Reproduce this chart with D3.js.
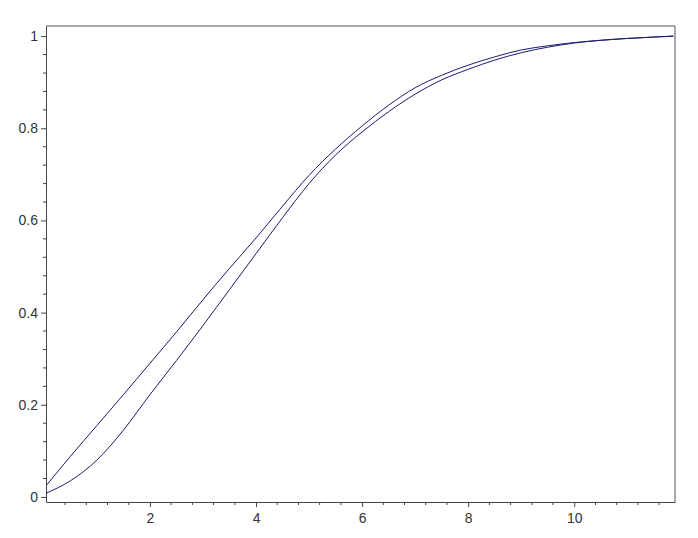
<!DOCTYPE html>
<html>
<head>
<meta charset="utf-8">
<script src="https://cdn.jsdelivr.net/npm/d3@7"></script>
<style>
  body { margin: 0; background: #fff; }
  text { font-family: Arial, "Liberation Sans", sans-serif; font-size: 14px; fill: #333; }
</style>
</head>
<body>
<svg id="plot"></svg>
<script>
const width = 698;
const height = 538;

// curve values
const xs = [0.04, 0.5, 1, 1.5, 2, 2.5, 3, 3.5, 4, 4.5, 5, 5.5, 6, 6.5, 7, 7.5, 8, 8.5, 9, 9.5, 10, 10.5, 11, 11.5, 11.87];
const upperY = [0.024, 0.088, 0.155, 0.222, 0.29, 0.358, 0.428, 0.496, 0.562, 0.631, 0.698, 0.755, 0.805, 0.85, 0.888, 0.915, 0.937, 0.955, 0.97, 0.979, 0.986, 0.991, 0.995, 0.998, 1.0];
const lowerY = [0.008, 0.035, 0.08, 0.145, 0.222, 0.296, 0.372, 0.45, 0.528, 0.606, 0.68, 0.742, 0.792, 0.836, 0.874, 0.905, 0.928, 0.948, 0.964, 0.976, 0.985, 0.991, 0.995, 0.998, 1.0];

const xTicks = [2, 4, 6, 8, 10];
const yTicks = [0, 0.2, 0.4, 0.6, 0.8, 1];

const mLeft = 46, mRight = 675, mTop = 26, mBottom = 502;

const svg = d3.select('#plot').attr('width', width).attr('height', height);

const x = d3.scaleLinear().domain([0.04, 11.9]).range([mLeft, mRight]);
const y = d3.scaleLinear().domain([-0.011, 1.022]).range([mBottom, mTop]);

// frame (top and right)
svg.append('path')
    .attr('d', `M${mLeft},${mTop}H${mRight}V${mBottom}`)
    .attr('fill', 'none')
    .attr('stroke', '#555')
    .attr('stroke-width', 1);

// minor ticks
const xMinor = d3.range(0.4, 11.9, 0.4).filter(v => !xTicks.some(t => Math.abs(t - v) < 1e-6));
const yMinor = d3.range(0.04, 1.0, 0.04).filter(v => !yTicks.some(t => Math.abs(t - v) < 1e-6));

const xAxis = svg.append('g').attr('transform', `translate(0, ${mBottom})`)
    .call(d3.axisBottom(x).tickValues(xTicks).tickSize(5).tickFormat(d3.format('d')).tickSizeOuter(0));
xAxis.append('g').selectAll('line').data(xMinor).join('line')
    .attr('x1', d => x(d)).attr('x2', d => x(d)).attr('y1', 0).attr('y2', 3)
    .attr('stroke', '#444');

const yAxis = svg.append('g').attr('transform', `translate(${mLeft}, 0)`)
    .call(d3.axisLeft(y).tickValues(yTicks).tickSize(5).tickFormat(d => d === 0 || d === 1 ? d : d.toFixed(1)).tickSizeOuter(0));
yAxis.append('g').selectAll('line').data(yMinor).join('line')
    .attr('y1', d => y(d)).attr('y2', d => y(d)).attr('x1', 0).attr('x2', -3)
    .attr('stroke', '#444');

[xAxis, yAxis].forEach(a => {
    a.select('.domain').attr('stroke', '#444');
    a.selectAll('.tick line').attr('stroke', '#444');
    a.selectAll('text').attr('font-size', null).attr('font-family', null).attr('fill', '#333');
});
xAxis.selectAll('.tick text').attr('dy', '0.9em');

svg.append('clipPath').attr('id', 'clip')
    .append('rect').attr('x', mLeft).attr('y', mTop).attr('width', mRight - mLeft).attr('height', mBottom - mTop);

const line = d3.line().x(d => x(d[0])).y(d => y(d[1])).curve(d3.curveMonotoneX);

const series = [d3.zip(xs, upperY), d3.zip(xs, lowerY)];
svg.append('g').attr('clip-path', 'url(#clip)')
    .selectAll('path').data(series).join('path')
    .attr('d', line)
    .attr('fill', 'none')
    .attr('stroke', '#1c1c70')
    .attr('stroke-width', 1);
</script>
</body>
</html>
